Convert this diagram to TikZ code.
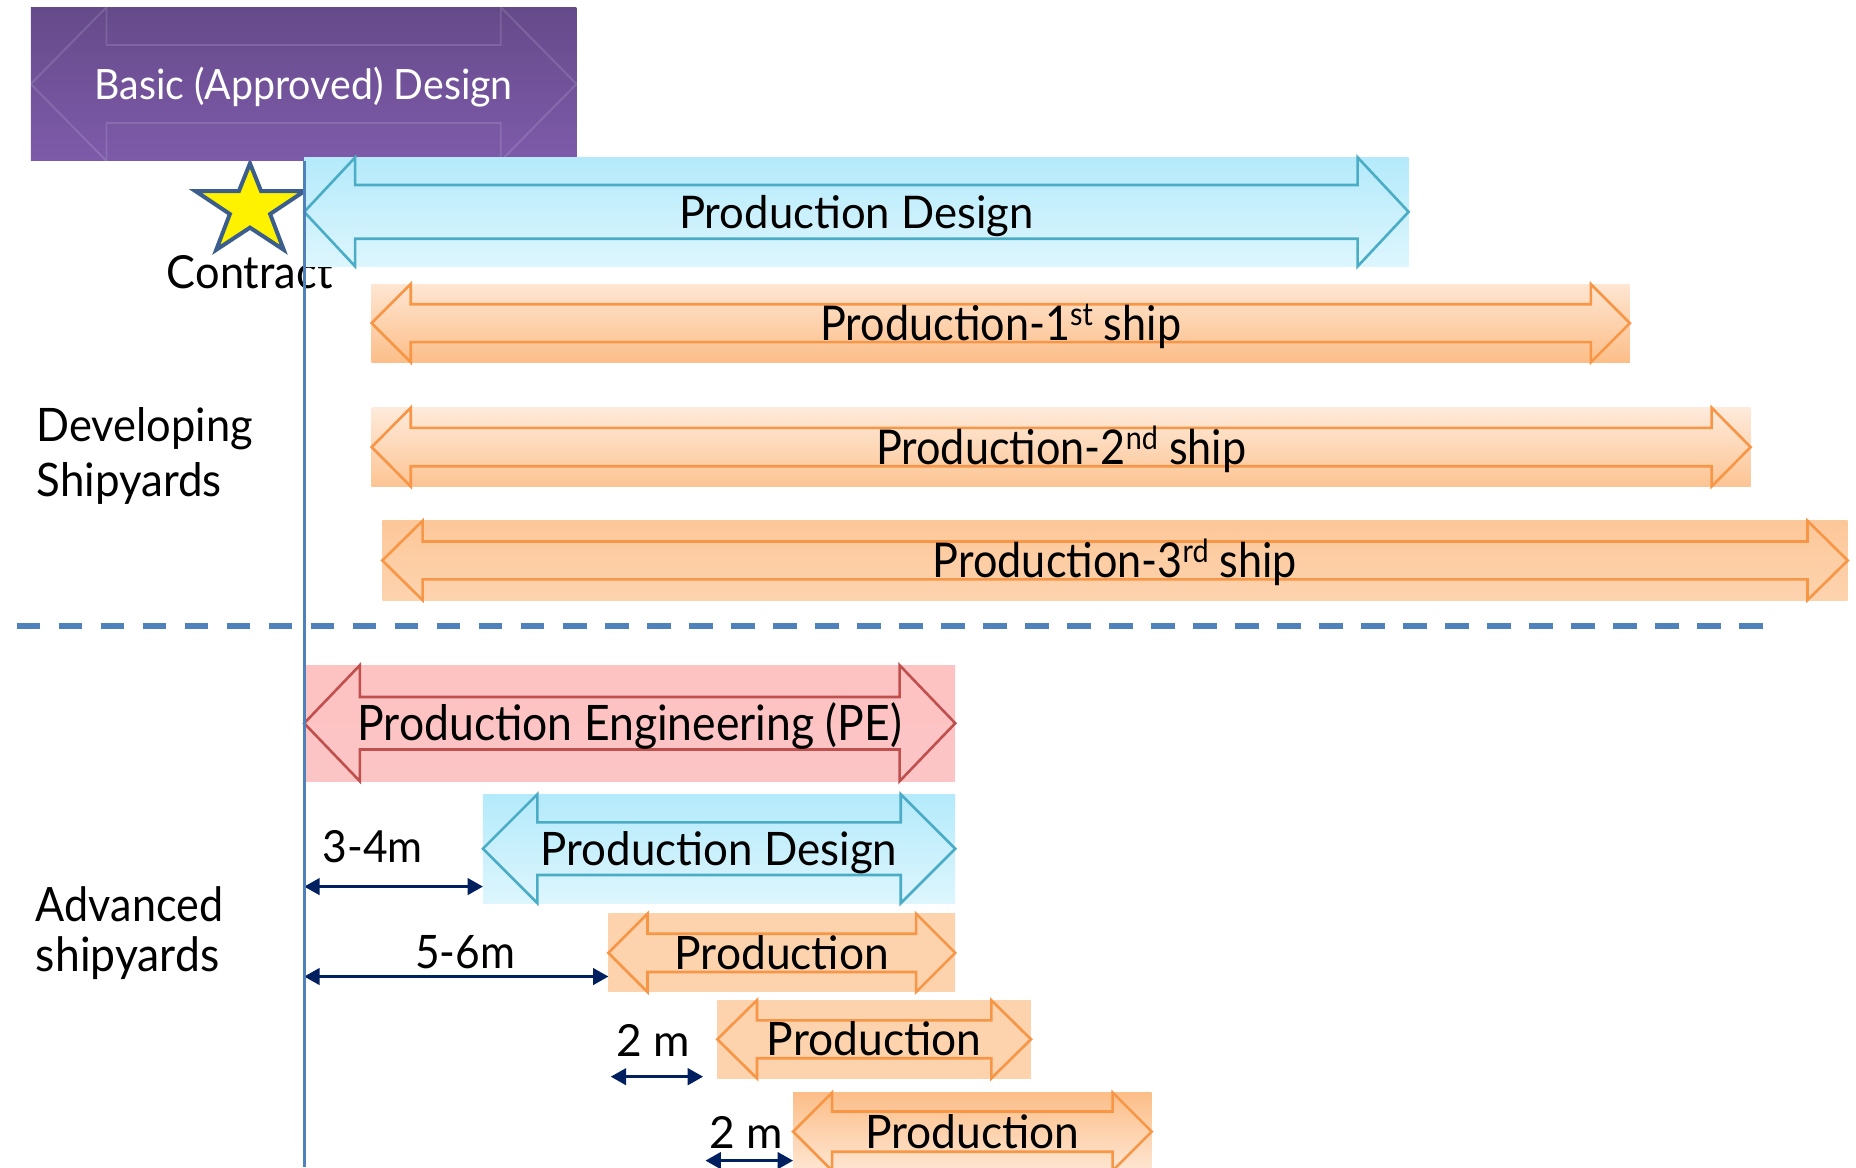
\documentclass[tikz,border=0pt]{standalone}
\usepackage{fontspec}
\setmainfont{Lato}
\usetikzlibrary{shapes.geometric,arrows.meta}

\definecolor{axisblue}{HTML}{4F81BD}
\definecolor{navy}{HTML}{002060}
\definecolor{pdline}{HTML}{4BACC6}
\definecolor{pdtop}{HTML}{B4EAFB}
\definecolor{pdbot}{HTML}{DDF6FD}
\definecolor{orline}{HTML}{F79646}
\definecolor{orlight}{HTML}{FEE6D2}
\definecolor{ormid}{HTML}{FDD3AE}
\definecolor{ordark}{HTML}{FCBE88}
\definecolor{peline}{HTML}{C0504D}
\definecolor{petop}{HTML}{FDC2C2}
\definecolor{pemid}{HTML}{FEE2E2}
\definecolor{pebot}{HTML}{FCC5C5}
\definecolor{purtop}{HTML}{654A8A}
\definecolor{purbot}{HTML}{7E5BAA}
\definecolor{starline}{HTML}{3B5E8C}

% outline of a double-headed block arrow filling a node:
% #1 style, #2 node, #3 head length, #4 half height of the shaft
\newcommand\dblout[4]{%
  \draw[#1] (#2.west) -- ([xshift=#3]#2.north west)
    -- ([xshift=#3,yshift=#4]#2.west) -- ([xshift=-#3,yshift=#4]#2.east)
    -- ([xshift=-#3]#2.north east) -- (#2.east)
    -- ([xshift=-#3]#2.south east) -- ([xshift=-#3,yshift=-#4]#2.east)
    -- ([xshift=#3,yshift=-#4]#2.west) -- ([xshift=#3]#2.south west) -- cycle;}

% font size, a slightly condensed setting of a text, and ordinal suffixes
\newcommand\fsz[1]{\fontsize{#1}{#1}\selectfont}
\newcommand\hs[2]{\scalebox{#1}[1]{#2}}
\newcommand\ordsup[1]{\raisebox{12.5pt}{\fontsize{27}{27}\selectfont #1}}

\begin{document}
\begin{tikzpicture}[x=1pt,y=-1pt,
  band/.style={inner sep=0pt, outer sep=0pt, draw=none},
  captext/.style={inner sep=0pt, outer sep=0pt, text height=#1, text depth=0pt},
  outl/.style={line width=2.2pt, line join=miter},
  plain/.style={inner sep=0pt, outer sep=0pt, anchor=base},
  dim/.style={draw=navy, line width=2.3pt,
    {Triangle[length=13pt,width=14pt]}-{Triangle[length=13pt,width=14pt]}}]

\clip (0,0) rectangle (1568,986);

% ---- contract milestone
\coordinate (starc) at (211.2,179);
\draw[draw=starline, fill=yellow, line width=3.4pt, line join=miter, shift={(starc)}]
  (0,-41) -- (9.4,-17.5) -- (46,-17.5) -- (17,1.8) -- (28.5,32)
  -- (0,13.3) -- (-28.5,32) -- (-17,1.8) -- (-46,-17.5) -- (-9.4,-17.5) -- cycle;
\node[plain] (contract) at (211,243.8) {\fsz{38.5}\hs{0.95}{Contract}};

% ---- basic design block
\node[band, top color=purtop, bottom color=purbot,
      minimum width=461pt, minimum height=130pt] (basic) at (256.5,71) {};
\dblout{draw=white, draw opacity=0.13, line width=1.6pt}{basic}{64pt}{33pt}
\node[captext=25.3pt, text=white] (basict) at (basic.center)
  {\fsz{35.3}\hs{0.94}{Basic (Approved) Design}};

% ---- developing shipyards
\node[band, top color=pdtop, bottom color=pdbot,
      minimum width=933pt, minimum height=92pt] (pd1) at (723.5,179) {};
\dblout{outl, draw=pdline}{pd1}{43pt}{22.7pt}
\node[captext=27.3pt] (pd1t) at (pd1.center) {\fsz{38}\hs{0.97}{Production Design}};

\node[band, top color=orlight, bottom color=ordark,
      minimum width=1063pt, minimum height=66pt] (s1) at (845.5,273) {};
\dblout{outl, draw=orline}{s1}{33pt}{16pt}
\node[captext=29pt] (s1t) at (s1.center)
  {\fsz{40.5}\hs{0.9}{Production-1\ordsup{st} ship}};

\node[band, top color=orlight!80!white, bottom color=ordark!85!orlight,
      minimum width=1165pt, minimum height=66.6pt] (s2) at (896.5,377.7) {};
\dblout{outl, draw=orline}{s2}{33pt}{16.2pt}
\node[captext=29pt] (s2t) at (s2.center)
  {\fsz{40.5}\hs{0.9}{Production-2\ordsup{nd} ship}};

\node[band, top color=ordark!85!white, middle color=orlight, bottom color=ormid,
      minimum width=1238pt, minimum height=67pt] (s3) at (942,473.5) {};
\dblout{outl, draw=orline}{s3}{34pt}{16pt}
\node[captext=29pt] (s3t) at (s3.center)
  {\fsz{40.5}\hs{0.9}{Production-3\ordsup{rd} ship}};

\node[plain, anchor=base west] (dev1) at (31,373) {\fsz{39}\hs{0.94}{Developing}};
\node[plain, anchor=base west] (dev2) at (31,419.6) {\fsz{39}\hs{0.95}{Shipyards}};

% ---- divider
\coordinate (divL) at (14,529);
\coordinate (divR) at (1490,529);
\draw[axisblue, line width=5.5pt, dash pattern=on 20pt off 15.5pt] (divL) -- (divR);

% ---- advanced shipyards
\node[band, top color=petop, middle color=pemid, bottom color=pebot,
      minimum width=550pt, minimum height=98pt] (pe) at (532,611) {};
\dblout{outl, draw=peline}{pe}{47pt}{22.2pt}
\node[captext=29.6pt] (pet) at (pe.center)
  {\fsz{41.3}\hs{0.91}{Production Engineering (PE)}};

\node[band, top color=pdtop, bottom color=pdbot,
      minimum width=399pt, minimum height=92pt] (pd2) at (607.5,717) {};
\dblout{outl, draw=pdline}{pd2}{46pt}{22.2pt}
\node[captext=28pt] (pd2t) at (pd2.center) {\fsz{39}\hs{0.95}{Production Design}};

\node[band, top color=ormid, middle color=ordark, bottom color=ormid,
      minimum width=293pt, minimum height=66pt] (p1) at (660.5,805) {};
\dblout{outl, draw=orline}{p1}{33pt}{16.2pt}
\node[captext=28pt] (p1t) at (p1.center) {\fsz{39}\hs{0.96}{Production}};

\node[band, top color=ormid, middle color=orlight, bottom color=ormid,
      minimum width=265pt, minimum height=66pt] (p2) at (738.5,878) {};
\dblout{outl, draw=orline}{p2}{33.5pt}{16pt}
\node[captext=28pt] (p2t) at (p2.center) {\fsz{39}\hs{0.96}{Production}};

\node[band, top color=ordark, bottom color=orlight,
      minimum width=303pt, minimum height=66pt] (p3) at (821.5,956) {};
\dblout{outl, draw=orline}{p3}{33pt}{17pt}
\node[captext=28pt] (p3t) at (p3.center) {\fsz{39}\hs{0.96}{Production}};

\node[plain, anchor=base west] (adv1) at (30.4,778.6) {\fsz{40}\hs{0.91}{Advanced}};
\node[plain, anchor=base west] (adv2) at (30.4,821) {\fsz{40}\hs{0.94}{shipyards}};

% ---- lead times
\coordinate (d34) at (257,749);
\draw[dim] (d34) -- (d34 -| pd2.west);
\node[plain] (d34t) at (315,729) {\fsz{37.4}\hs{0.96}{3-4m}};

\coordinate (d56) at (257,825);
\draw[dim] (d56) -- (d56 -| p1.west);
\node[plain] (d56t) at (393,818) {\fsz{39}\hs{0.92}{5-6m}};

\coordinate (d2aL) at (516,909.6);
\coordinate (d2aR) at (594,909.6);
\draw[dim] (d2aL) -- (d2aR);
\node[plain] (d2at) at (551.5,892.7) {\fsz{37.4}2 m};

\coordinate (d2bL) at (596,980.5);
\draw[dim] (d2bL) -- (d2bL -| p3.west);
\node[plain] (d2bt) at (630.5,970) {\fsz{37.4}2 m};

% ---- contract time axis
\coordinate (axisbot) at (257,986);
\draw[axisblue, line width=2.6pt] (basic.south -| axisbot) -- (axisbot);

\end{tikzpicture}
\end{document}
